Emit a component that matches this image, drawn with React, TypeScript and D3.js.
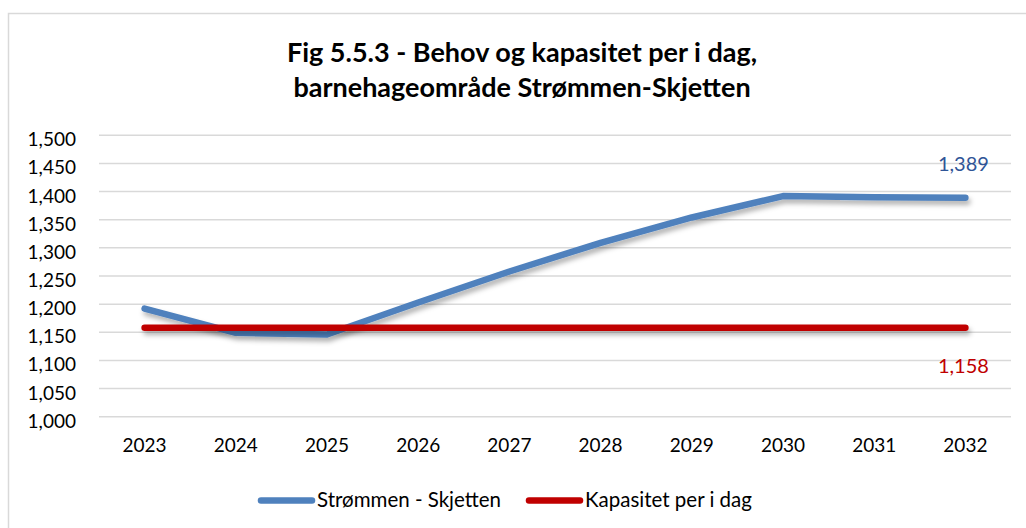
import React, { useEffect, useRef } from 'react';
import * as d3 from 'd3';

// chart data
const years = ['2023', '2024', '2025', '2026', '2027', '2028', '2029', '2030', '2031', '2032'];
const behov = [1192, 1149, 1146, 1203, 1258, 1309, 1354, 1392, 1390, 1389];
const kapasitet = [1158, 1158, 1158, 1158, 1158, 1158, 1158, 1158, 1158, 1158];
const seriesNames = ['Strømmen - Skjetten', 'Kapasitet per i dag'];
const titleLines = ['Fig 5.5.3 - Behov og kapasitet per i dag,', 'barnehageområde Strømmen-Skjetten'];
const yDomain = [1000, 1500];

const W = 1026;
const H = 528;
const FONT = 'Lato, "Open Sans", sans-serif';

function App() {
    const ref = useRef<SVGSVGElement>(null);

    useEffect(() => {
        document.body.style.margin = '0';
        const svg = d3.select(ref.current);
        svg.selectAll('*').remove();

        const left = 99, right = 1011, top = 135.3, bottom = 416.7;

        const x = d3.scaleBand().domain(years).range([left, right]);
        const y = d3.scaleLinear().domain(yDomain).range([bottom, top]);
        const cx = (d: string) => (x(d) as number) + x.bandwidth() / 2;

        // shadow like the excel line effect (userSpaceOnUse so flat lines still render)
        const defs = svg.append('defs');
        defs.append('filter')
            .attr('id', 'shadow')
            .attr('filterUnits', 'userSpaceOnUse')
            .attr('x', 0).attr('y', 0)
            .attr('width', W).attr('height', H)
            .append('feDropShadow')
            .attr('dx', 2).attr('dy', 4)
            .attr('stdDeviation', 2.5)
            .attr('flood-color', '#000')
            .attr('flood-opacity', 0.3);

        // background + border
        svg.append('rect')
            .attr('x', 8.5).attr('y', 13.5)
            .attr('width', W).attr('height', H)
            .attr('fill', '#fff')
            .attr('stroke', '#d9d9d9')
            .attr('stroke-width', 1.5);

        // title
        svg.append('g')
            .selectAll('text')
            .data(titleLines)
            .enter()
            .append('text')
            .attr('x', 522)
            .attr('y', (d, i) => 61.5 + i * 35)
            .attr('text-anchor', 'middle')
            .style('font-family', FONT)
            .style('font-weight', 'bold')
            .style('font-size', '27px')
            .attr('fill', '#000')
            .text(d => d);

        // gridlines
        const ticks = y.ticks(10);
        svg.append('g')
            .selectAll('line')
            .data(ticks)
            .enter()
            .append('line')
            .attr('x1', left).attr('x2', right)
            .attr('y1', d => y(d)).attr('y2', d => y(d))
            .attr('stroke', '#d9d9d9')
            .attr('stroke-width', 1.5);

        // y labels
        svg.append('g')
            .selectAll('text')
            .data(ticks)
            .enter()
            .append('text')
            .attr('x', 76)
            .attr('y', d => y(d) + 11)
            .attr('text-anchor', 'end')
            .style('font-family', FONT)
            .style('font-size', '19px')
            .attr('fill', '#000')
            .text(d => d3.format(',')(d));

        // x labels
        svg.append('g')
            .selectAll('text')
            .data(years)
            .enter()
            .append('text')
            .attr('x', d => cx(d))
            .attr('y', 451.5)
            .attr('text-anchor', 'middle')
            .style('font-family', FONT)
            .style('font-size', '19px')
            .attr('fill', '#000')
            .text(d => d);

        const line = d3.line<number>()
            .x((d, i) => cx(years[i]))
            .y(d => y(d));

        const series = [
            { values: behov, color: '#4F81BD', label: '#2F5597', dy: -27 },
            { values: kapasitet, color: '#C00000', label: '#C00000', dy: 45 },
        ];

        series.forEach(s => {
            svg.append('path')
                .datum(s.values)
                .attr('d', line)
                .attr('fill', 'none')
                .attr('stroke', s.color)
                .attr('stroke-width', 6.5)
                .attr('stroke-linecap', 'round')
                .attr('stroke-linejoin', 'round')
                .attr('filter', 'url(#shadow)');
        });

        // data labels on last point
        series.forEach(s => {
            const last = s.values.length - 1;
            svg.append('text')
                .attr('x', cx(years[last]) - 2)
                .attr('y', y(s.values[last]) + s.dy)
                .attr('text-anchor', 'middle')
                .style('font-family', FONT)
                .style('font-size', '20px')
                .attr('fill', s.label)
                .text(d3.format(',')(s.values[last]));
        });

        // legend
        const legendX = [261, 529];
        const lg = svg.append('g');
        series.forEach((s, i) => {
            lg.append('line')
                .attr('x1', legendX[i]).attr('x2', legendX[i] + 51)
                .attr('y1', 500.5).attr('y2', 500.5)
                .attr('stroke', s.color)
                .attr('stroke-width', 6.5)
                .attr('stroke-linecap', 'round');
            lg.append('text')
                .attr('x', legendX[i] + 56)
                .attr('y', 507)
                .style('font-family', FONT)
                .style('font-size', '20.5px')
                .attr('fill', '#000')
                .text(seriesNames[i]);
        });
    }, []);

    return (
        <svg ref={ref} width={W} height={H} style={{ display: 'block' }} />
    );
}

export default App;
